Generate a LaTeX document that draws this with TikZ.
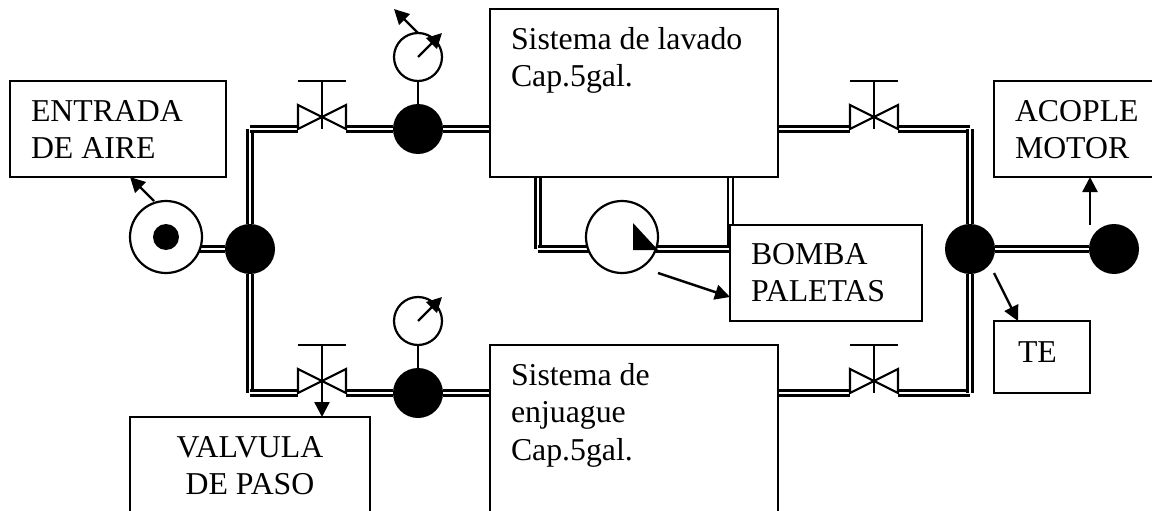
\documentclass[tikz,border=0pt]{standalone}
\usepackage{fontspec}
\setmainfont{Liberation Serif}
\usetikzlibrary{arrows.meta,backgrounds,calc}
\newcommand\boxbody[5]{\parbox[c][#2pt][t]{#1pt}{#3\rule{0pt}{#4pt}#5}}
\newcommand\lefttext[1]{\raggedright\leftskip=#1pt\relax}
\newcommand\valve[2]{%
  \node[valvebody] (#1) at (#2) {};
  \coordinate (#1bar) at ($(#1)+(0,-36)$);
  \draw[thin line] (#1.north west) -- (#1.south east) -- (#1.north east) -- (#1.south west) -- cycle;
  \draw[thin line] (#1.south) -- (#1bar);
  \draw[thin line] ($(#1bar)+(-24,0)$) -- ($(#1bar)+(24,0)$);
}
\tikzset{
  x=1pt,y=-1pt,
  every node/.style={font=\fontsize{31.8}{37.5}\selectfont},
  box/.style={draw,line width=2.2pt,fill=white,inner sep=0pt,outer sep=0pt,anchor=north west},
  junction/.style={circle,fill=black,inner sep=0pt,outer sep=0pt,minimum size=50pt},
  gauge/.style={circle,draw,line width=2.2pt,fill=white,inner sep=0pt,outer sep=0pt,minimum size=48pt},
  machine/.style={circle,draw,line width=2.2pt,fill=white,inner sep=0pt,outer sep=0pt,minimum size=72pt},
  valvebody/.style={inner sep=0pt,outer sep=0pt,minimum width=48pt,minimum height=24pt},
  pipe/.style={line width=2.3pt,double=white,double distance=2.8pt},
  thin line/.style={line width=2.2pt},
  flow/.style={line width=2.4pt,-{Triangle[length=15pt,width=15pt]}},
}
\begin{document}
\begin{tikzpicture}
\useasboundingbox (0,0) rectangle (1152,511);
% boxes
\node[box] (entrada) at (10,81) {\boxbody{216}{96}{\lefttext{21}}{40}{ENTRADA\\DE AIRE}};
\node[box] (lavado) at (490,9) {\boxbody{288}{168}{\lefttext{21}}{40}{Sistema de lavado\\Cap.5gal.}};
\node[box] (enjuague) at (490,345) {\boxbody{288}{190}{\lefttext{21}}{40}{Sistema de\\enjuague\\Cap.5gal.}};
\node[box] (bomba) at (730,225) {\boxbody{192}{96}{\lefttext{21}}{39}{BOMBA\\PALETAS}};
\node[box] (acople) at (994,81) {\boxbody{180}{96}{\lefttext{21}}{40}{ACOPLE\\MOTOR}};
\node[box] (te) at (994,321) {\boxbody{96}{72}{\lefttext{24}}{41}{TE}};
\node[box] (valvula) at (130,417) {\boxbody{240}{110}{\centering}{40}{VALVULA\\DE PASO}};
% junctions
\node[junction] (j1) at (250,249) {};
\node[junction] (j2) at (418,129) {};
\node[junction] (j3) at (418,393) {};
\node[junction] (j4) at (970,249) {};
\node[junction] (j5) at (1114,249) {};
% gauges
\node[gauge] (g1) at (418,57) {};
\node[gauge] (g2) at (418,321) {};
% machines
\node[machine] (comp) at (166,237) {};
\node[circle,fill=black,inner sep=0pt,minimum size=26pt] (compcore) at (comp) {};
\node[machine] (pump) at (622,237) {};
\fill (633,223) -- (658,250) -- (633,250) -- cycle;
% valves
\valve{v1}{322,117}
\valve{v2}{322,381}
\valve{v3}{874,117}
\valve{v4}{874,381}
% pipe corners
\coordinate (c1) at (250,129);
\coordinate (c2) at (250,393);
\coordinate (c3) at (970,129);
\coordinate (c4) at (970,393);
\coordinate (c5) at (538,249);
\coordinate (c6) at (730.5,249);
\begin{scope}[on background layer]
\draw[pipe] (comp |- j1) -- (j1);
\draw[pipe] (j1) -- (c1);
\draw[pipe] (c1) -- (v1.south west);
\draw[pipe] (v1.south east) -- (j2);
\draw[pipe] (j2) -- (j2 -| lavado.west);
\draw[pipe] (j1) -- (c2);
\draw[pipe] (c2) -- (v2.south west);
\draw[pipe] (v2.south east) -- (j3);
\draw[pipe] (j3) -- (j3 -| enjuague.west);
\draw[pipe] (lavado.east |- c3) -- (v3.south west);
\draw[pipe] (v3.south east) -- (c3);
\draw[pipe] (c3) -- (j4);
\draw[pipe] (enjuague.east |- c4) -- (v4.south west);
\draw[pipe] (v4.south east) -- (c4);
\draw[pipe] (c4) -- (j4);
\draw[pipe] (j4) -- (j5);
\draw[pipe] (c5 |- lavado.south) -- (c5);
\draw[pipe] (c5) -- (c6);
\draw[pipe] (c6 |- lavado.south) -- ([yshift=1pt]c6);
\end{scope}
% thin connectors
\draw[thin line] (j2) -- (g1);
\draw[thin line] (j3) -- (g2);
% arrows
\coordinate (a1) at (442,33);
\coordinate (a2) at (394,9);
\coordinate (a3) at (442,297);
\coordinate (a4) at (154,201);
\coordinate (a5) at (130,177);
\coordinate (a6) at (658,273);
\coordinate (a7) at (730,297);
\coordinate (a8) at (994,273);
\coordinate (a9) at (1018,321);
\coordinate (a10) at (1090,225);
\coordinate (a11) at (1090,177);
\draw[flow] (g1.center) -- (a1);
\draw[flow] (g1.north) -- (a2);
\draw[flow] (g2.center) -- (a3);
\draw[flow] (a4) -- (a5);
\draw[flow] (a6) -- (a7);
\draw[flow] (a8) -- (a9);
\draw[flow] (a10) -- (a11);
\draw[flow] (v2.south) -- (v2.south |- valvula.north);
\end{tikzpicture}
\end{document}
